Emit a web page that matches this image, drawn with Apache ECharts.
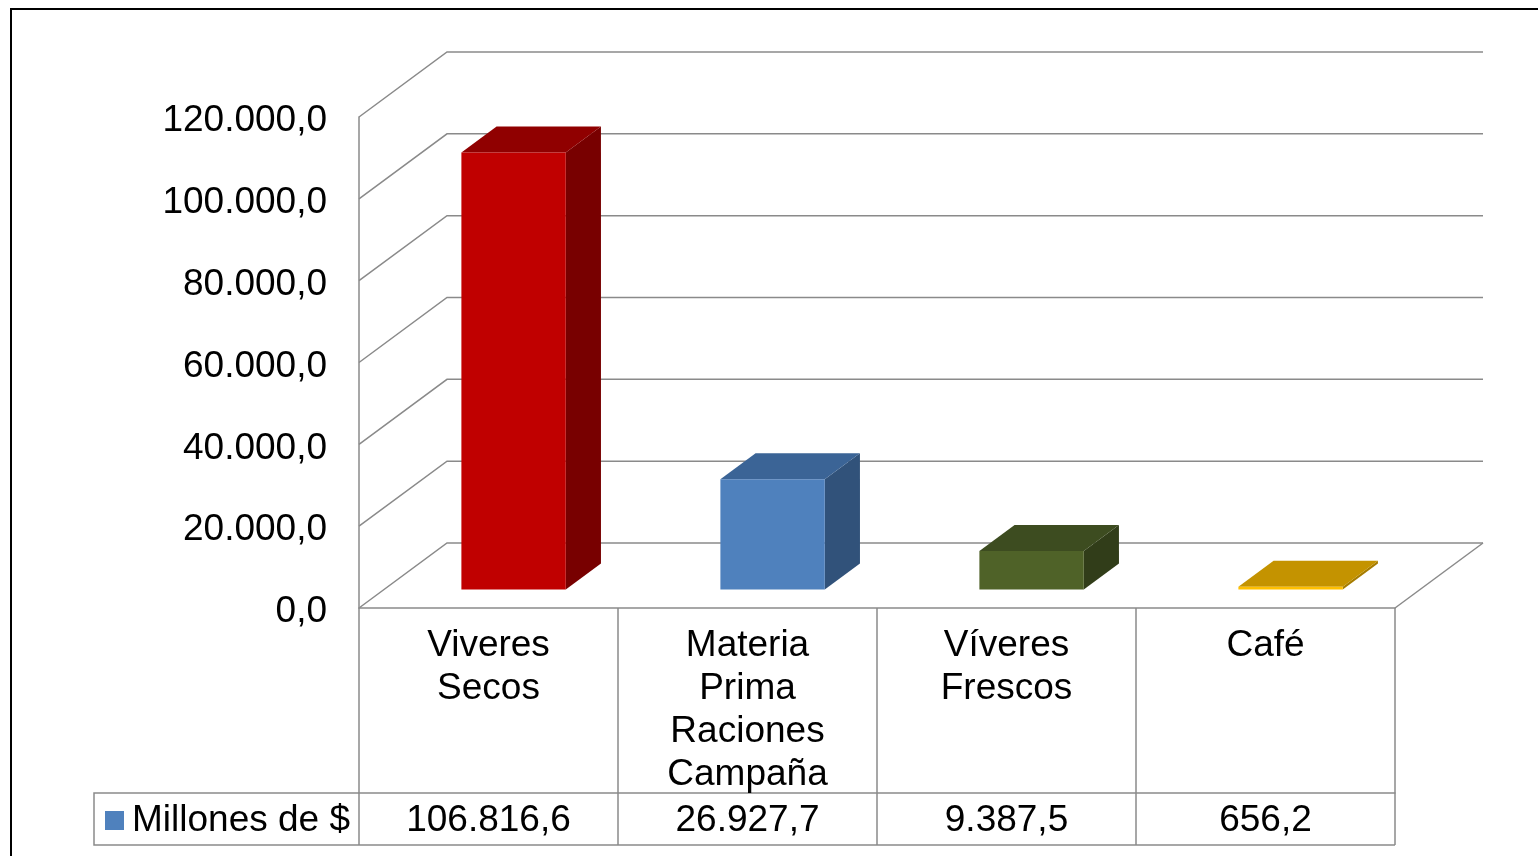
<!DOCTYPE html>
<html>
<head>
<meta charset="utf-8">
<style>
  html, body { margin: 0; padding: 0; background: #fff; }
  #chart { width: 1538px; height: 856px; }
</style>
<script src="https://cdn.jsdelivr.net/npm/echarts@6/dist/echarts.min.js"></script>
</head>
<body>
<div id="chart"></div>
<script>
// datos
const categories = ['Viveres\nSecos', 'Materia\nPrima\nRaciones\nCampaña', 'Víveres\nFrescos', 'Café'];
const values = [106816.6, 26927.7, 9387.5, 656.2];
const valueLabels = ['106.816,6', '26.927,7', '9.387,5', '656,2'];
const yTicks = [0, 20000, 40000, 60000, 80000, 100000, 120000];
const seriesName = 'Millones de $';

// colores de cada barra: frente, tapa, lado
const barColors = [
    ['#C00000', '#900000', '#780000'],
    ['#4F81BD', '#3B6496', '#31527A'],
    ['#4F6228', '#3D4C20', '#313D19'],
    ['#FFC000', '#C49300', '#A67C00']
];

const FONT = '"Liberation Sans", Arial, sans-serif';
const GRID = '#8a8a8a';
const DX = 88, DY = -65;        // profundidad del piso
const FRONT = 0.285, DEPTH = 0.4, BAR_W = 0.403;
const TABLE_ROW = 185, TABLE_H = 237, TABLE_LEFT = 94;

function fmt(v) {
    return '{v|' + String(v).replace(/\B(?=(\d{3})+(?!\d))/g, '.') + ',0}';
}

let chart = echarts.init(document.getElementById('chart'));

let option = {
    backgroundColor: '#fff',
    animation: false,
    textStyle: { fontFamily: FONT },
    graphic: [{
        type: 'rect',
        shape: { x: 11, y: 9, width: 1540, height: 860 },
        style: { fill: null, stroke: '#000', lineWidth: 2 }
    }],
    legend: {
        data: [seriesName],
        left: 105,
        top: 802,
        padding: 0,
        icon: 'rect',
        itemWidth: 19,
        itemHeight: 19,
        textStyle: { fontSize: 37, color: '#000', fontFamily: FONT, padding: [0, 0, 0, 3] }
    },
    grid: {
        left: 359,
        right: 143,
        top: 117,
        bottom: 248
    },
    xAxis: [{
        type: 'category',
        data: categories,
        axisLine: { show: true, lineStyle: { color: GRID, width: 1.5 } },
        axisTick: { show: true, length: TABLE_H, lineStyle: { color: GRID, width: 1.5 } },
        axisLabel: {
            fontSize: 37, lineHeight: 43, color: '#000', margin: 16,
            fontFamily: FONT, align: 'center', interval: 0
        }
    }, {
        type: 'category',
        data: valueLabels,
        position: 'bottom',
        offset: TABLE_ROW,
        axisLine: { show: true, lineStyle: { color: GRID, width: 1.5 } },
        axisTick: { show: false },
        axisLabel: { fontSize: 37, color: '#000', margin: 9, fontFamily: FONT, interval: 0 }
    }],
    yAxis: {
        type: 'value',
        min: 0,
        max: 120000,
        interval: 20000,
        axisLine: { show: true, lineStyle: { color: GRID, width: 1.5 } },
        axisTick: { show: false },
        splitLine: { show: false },
        axisLabel: {
            color: '#000', margin: 32,
            formatter: fmt,
            rich: {
                v: { fontSize: 37, color: '#000', fontFamily: FONT, padding: [8, 0, 0, 0] }
            }
        }
    },
    series: [{
        // paredes, piso y bordes de la tabla
        type: 'custom',
        name: 'walls',
        clip: false,
        silent: true,
        z: 1,
        data: [[0, 0]],
        renderItem: function (params, api) {
            let cs = params.coordSys;
            let children = [];
            let line = { stroke: GRID, lineWidth: 1.5, fill: null };
            yTicks.forEach(function (v) {
                let y = api.coord([0, v])[1];
                children.push({
                    type: 'polyline',
                    shape: { points: [[cs.x, y], [cs.x + DX, y + DY], [cs.x + cs.width + DX, y + DY]] },
                    style: line
                });
            });
            let y0 = api.coord([0, 0])[1];
            let xr = cs.x + cs.width;
            children.push({
                type: 'line',
                shape: { x1: xr, y1: y0, x2: xr + DX, y2: y0 + DY },
                style: line
            });
            // tabla
            children.push({
                type: 'polyline',
                shape: { points: [[cs.x, y0 + TABLE_ROW], [TABLE_LEFT, y0 + TABLE_ROW], [TABLE_LEFT, y0 + TABLE_H], [xr, y0 + TABLE_H]] },
                style: line
            });
            return { type: 'group', children: children };
        }
    }, {
        type: 'custom',
        name: seriesName,
        clip: false,
        z: 5,
        itemStyle: { color: '#4F81BD' },
        encode: { x: 0, y: 1 },
        data: values.map(function (v, i) { return [i, v]; }),
        renderItem: function (params, api) {
            let i = api.value(0);
            let base = api.coord([i, 0]);
            let top = api.coord([i, api.value(1)]);
            let band = api.size([1, 0])[0];
            let hw = band * BAR_W / 2;
            let xl = base[0] - hw + FRONT * DX;
            let xr = base[0] + hw + FRONT * DX;
            let yb = base[1] + FRONT * DY;
            let yt = top[1] + FRONT * DY;
            let ddx = DEPTH * DX, ddy = DEPTH * DY;
            let c = barColors[params.dataIndex];
            return {
                type: 'group',
                children: [{
                    type: 'polygon',
                    shape: { points: [[xr, yt], [xr, yb], [xr + ddx, yb + ddy], [xr + ddx, yt + ddy]] },
                    style: { fill: c[2] }
                }, {
                    type: 'polygon',
                    shape: { points: [[xl, yt], [xr, yt], [xr + ddx, yt + ddy], [xl + ddx, yt + ddy]] },
                    style: { fill: c[1] }
                }, {
                    type: 'rect',
                    shape: { x: xl, y: yt, width: xr - xl, height: Math.max(yb - yt, 1.5) },
                    style: { fill: c[0] }
                }]
            };
        }
    }]
};

chart.setOption(option);
</script>
</body>
</html>
